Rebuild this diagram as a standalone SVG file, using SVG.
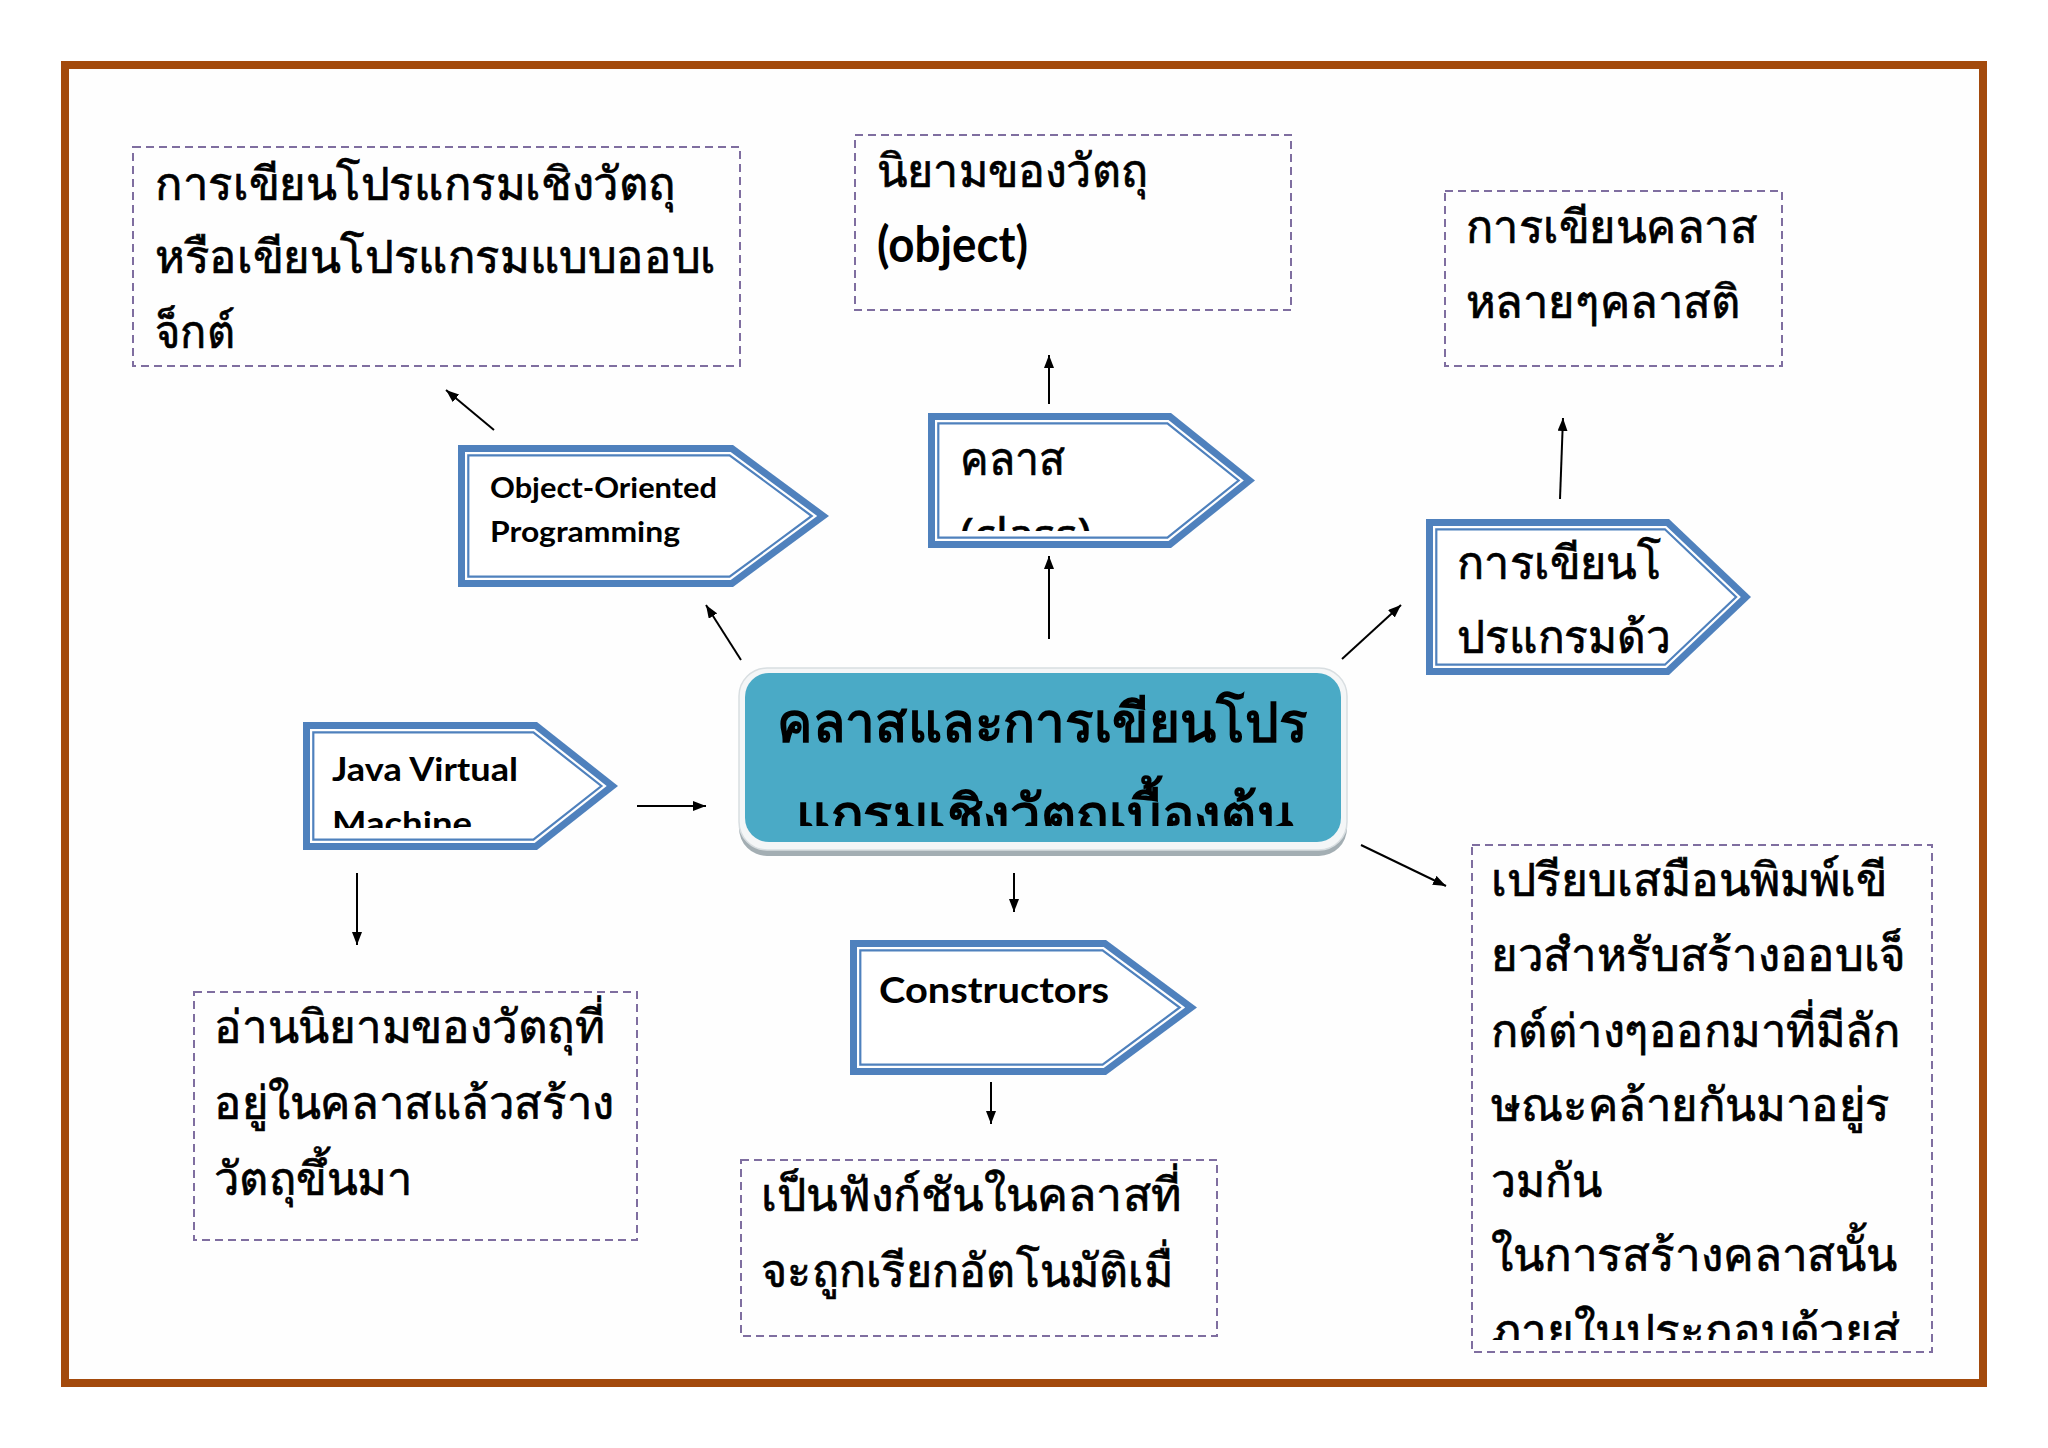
<svg xmlns="http://www.w3.org/2000/svg" width="2048" height="1448" viewBox="0 0 2048 1448">
<style>
.th{font-family:'Noto Sans',sans-serif;font-size:46px;fill:#000;stroke:#000;stroke-width:0.7}
.thc{font-family:'Noto Sans',sans-serif;font-size:55px;font-weight:bold;fill:#000}
.en{font-family:Lato,'Open Sans',sans-serif;font-weight:bold;fill:#000}
.dash{fill:none;stroke:#7F6EA0;stroke-width:2;stroke-dasharray:8 5}
.outer{fill:#4F81BD}
.white{fill:#fff}
.thin{fill:none;stroke:#4F81BD;stroke-width:2.2}
.conn line{stroke:#000;stroke-width:2;marker-end:url(#ah)}
</style>
<defs>
<marker id="ah" markerUnits="userSpaceOnUse" markerWidth="14" markerHeight="10" refX="13" refY="5" orient="auto">
<path d="M0,0 L13,5 L0,10 z" fill="#000"/>
</marker>
<clipPath id="cClass"><rect x="928" y="413" width="330" height="118"/></clipPath>
<clipPath id="cJvm"><rect x="303" y="722" width="320" height="106"/></clipPath>
<clipPath id="cCenter"><rect x="740" y="668" width="610" height="158"/></clipPath>
<clipPath id="cRight"><rect x="1472" y="845" width="460" height="495"/></clipPath>
<clipPath id="cTC"><rect x="855" y="135" width="436" height="175"/></clipPath>
</defs>
<rect x="0" y="0" width="2048" height="1448" fill="#fff"/>
<rect x="65" y="65" width="1918" height="1318" fill="#fefefe" stroke="#A34A0C" stroke-width="8"/>

<g id="box-oop-desc">
<rect class="dash" x="133" y="147" width="607" height="219"/>
<text class="th" x="155" y="200" textLength="521" lengthAdjust="spacingAndGlyphs">การเขียนโปรแกรมเชิงวัตถุ</text>
<text class="th" x="155" y="273" textLength="561" lengthAdjust="spacingAndGlyphs">หรือเขียนโปรแกรมแบบออบเ</text>
<text class="th" x="155" y="348" textLength="80" lengthAdjust="spacingAndGlyphs">จ็กต์</text>
</g>

<g id="box-object-def">
<rect class="dash" x="855" y="135" width="436" height="175"/>
<g clip-path="url(#cTC)">
<text class="th" x="877" y="187" textLength="271" lengthAdjust="spacingAndGlyphs">นิยามของวัตถุ</text>
<text class="en" x="877" y="262" font-size="50" textLength="151" lengthAdjust="spacingAndGlyphs">(object)</text>
</g>
</g>

<g id="box-class-desc">
<rect class="dash" x="1445" y="191" width="337" height="175"/>
<text class="th" x="1466" y="243" textLength="291" lengthAdjust="spacingAndGlyphs">การเขียนคลาส</text>
<text class="th" x="1466" y="318" textLength="274" lengthAdjust="spacingAndGlyphs">หลายๆคลาสติ</text>
</g>

<g id="node-oop">
<polygon class="outer" points="458,445 733,445 829,516 733,587 458,587"/>
<polygon class="white" points="465,452 730.7,452 817.2,516 730.7,580 465,580"/>
<polygon class="thin" points="468.3,455.3 729.6,455.3 811.7,516 729.6,576.7 468.3,576.7"/>
<text class="en" x="490" y="498" font-size="29" textLength="227" lengthAdjust="spacingAndGlyphs">Object-Oriented</text>
<text class="en" x="490" y="542" font-size="29" textLength="190" lengthAdjust="spacingAndGlyphs">Programming</text>
</g>

<g id="node-class">
<polygon class="outer" points="928,413 1171,413 1255,480.5 1171,548 928,548"/>
<polygon class="white" points="935,420 1168.5,420 1243.8,480.5 1168.5,541 935,541"/>
<polygon class="thin" points="938.3,423.3 1167.4,423.3 1238.6,480.5 1167.4,537.7 938.3,537.7"/>
<text class="th" x="960" y="475" font-size="50" textLength="105" lengthAdjust="spacingAndGlyphs">คลาส</text>
<g clip-path="url(#cClass)">
<text class="th" x="960" y="551" font-size="46">(class)</text>
</g>
</g>

<g id="node-writing">
<polygon class="outer" points="1426,519 1669,519 1751,597 1669,675 1426,675"/>
<polygon class="white" points="1433,526 1666.2,526 1740.8,597 1666.2,668 1433,668"/>
<polygon class="thin" points="1436.3,529.3 1664.9,529.3 1736.1,597 1664.9,664.7 1436.3,664.7"/>
<text class="th" x="1457" y="579" textLength="204" lengthAdjust="spacingAndGlyphs">การเขียนโ</text>
<text class="th" x="1457" y="653" textLength="214" lengthAdjust="spacingAndGlyphs">ปรแกรมด้ว</text>
</g>

<g id="node-center">
<rect x="739" y="674" width="608" height="182" rx="28" fill="#A3AEB3"/>
<rect x="739" y="668" width="608" height="182" rx="28" fill="#F4F6F7" stroke="#D8DEE1" stroke-width="1.5"/>
<rect x="745" y="673" width="596" height="169" rx="24" fill="#4AAAC6"/>
<g clip-path="url(#cCenter)">
<text class="thc" x="777" y="742" textLength="531" lengthAdjust="spacingAndGlyphs">คลาสและการเขียนโปร</text>
<text class="thc" x="796" y="834" textLength="498" lengthAdjust="spacingAndGlyphs">แกรมเชิงวัตถุเบื้องต้น</text>
</g>
</g>

<g id="node-jvm">
<polygon class="outer" points="303,722 537,722 618,786 537,850 303,850"/>
<polygon class="white" points="310,729 534.6,729 606.7,786 534.6,843 310,843"/>
<polygon class="thin" points="313.3,732.3 533.4,732.3 601.4,786 533.4,839.7 313.3,839.7"/>
<text class="en" x="332" y="781" font-size="32" textLength="186" lengthAdjust="spacingAndGlyphs">Java Virtual</text>
<g clip-path="url(#cJvm)">
<text class="en" x="332" y="835" font-size="32" textLength="140" lengthAdjust="spacingAndGlyphs">Machine</text>
</g>
</g>

<g id="box-jvm-desc">
<rect class="dash" x="194" y="992" width="443" height="248"/>
<text class="th" x="214" y="1043" textLength="391" lengthAdjust="spacingAndGlyphs">อ่านนิยามของวัตถุที่</text>
<text class="th" x="214" y="1119" textLength="400" lengthAdjust="spacingAndGlyphs">อยู่ในคลาสแล้วสร้าง</text>
<text class="th" x="214" y="1195" textLength="198" lengthAdjust="spacingAndGlyphs">วัตถุขึ้นมา</text>
</g>

<g id="node-constructors">
<polygon class="outer" points="850,940 1106,940 1197,1007.5 1106,1075 850,1075"/>
<polygon class="white" points="857,947 1103.7,947 1185.2,1007.5 1103.7,1068 857,1068"/>
<polygon class="thin" points="860.3,950.3 1102.6,950.3 1179.7,1007.5 1102.6,1064.7 860.3,1064.7"/>
<text class="en" x="879" y="1003" font-size="36" textLength="230" lengthAdjust="spacingAndGlyphs">Constructors</text>
</g>

<g id="box-constructors-desc">
<rect class="dash" x="741" y="1160" width="476" height="176"/>
<text class="th" x="761" y="1211" textLength="420" lengthAdjust="spacingAndGlyphs">เป็นฟังก์ชันในคลาสที่</text>
<text class="th" x="761" y="1287" textLength="412" lengthAdjust="spacingAndGlyphs">จะถูกเรียกอัตโนมัติเมื่</text>
</g>

<g id="box-class-blueprint">
<rect class="dash" x="1472" y="845" width="460" height="507"/>
<text class="th" x="1491" y="896" textLength="396" lengthAdjust="spacingAndGlyphs">เปรียบเสมือนพิมพ์เขี</text>
<text class="th" x="1491" y="971" textLength="415" lengthAdjust="spacingAndGlyphs">ยวสำหรับสร้างออบเจ็</text>
<text class="th" x="1491" y="1047" textLength="409" lengthAdjust="spacingAndGlyphs">กต์ต่างๆออกมาที่มีลัก</text>
<text class="th" x="1491" y="1121" textLength="399" lengthAdjust="spacingAndGlyphs">ษณะคล้ายกันมาอยู่ร</text>
<text class="th" x="1491" y="1197" textLength="111" lengthAdjust="spacingAndGlyphs">วมกัน</text>
<text class="th" x="1491" y="1271" textLength="406" lengthAdjust="spacingAndGlyphs">ในการสร้างคลาสนั้น</text>
<g clip-path="url(#cRight)">
<text class="th" x="1491" y="1347" textLength="409" lengthAdjust="spacingAndGlyphs">ภายในประกอบด้วยส่</text>
</g>
</g>

<g id="connectors" class="conn">
<line x1="494" y1="430" x2="446" y2="390"/>
<line x1="741" y1="660" x2="706" y2="605"/>
<line x1="1049" y1="404" x2="1049" y2="355"/>
<line x1="1049" y1="639" x2="1049" y2="556"/>
<line x1="1342" y1="659" x2="1401" y2="605"/>
<line x1="1560" y1="499" x2="1563" y2="418"/>
<line x1="637" y1="806" x2="706" y2="806"/>
<line x1="357" y1="873" x2="357" y2="945"/>
<line x1="1014" y1="873" x2="1014" y2="912"/>
<line x1="991" y1="1082" x2="991" y2="1124"/>
<line x1="1361" y1="845" x2="1446" y2="886"/>
</g>
</svg>
